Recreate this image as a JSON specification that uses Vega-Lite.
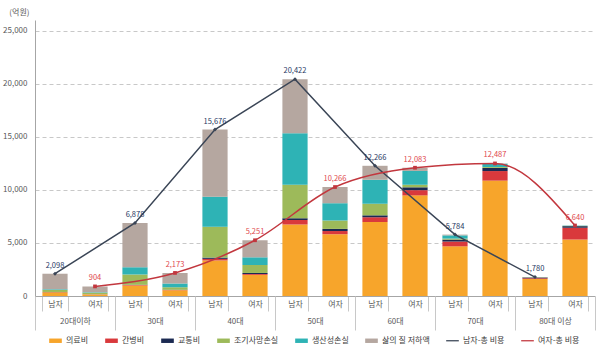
{
  "$schema": "https://vega.github.io/schema/vega-lite/v6.json",
  "width": 560,
  "height": 276,
  "autosize": {"type": "none"},
  "padding": {"left": 35, "top": 20, "right": 5, "bottom": 56},
  "background": "white",
  "config": {
    "font": "Noto Sans CJK KR",
    "view": {"stroke": null},
    "axis": {"labelFont": "Noto Sans CJK KR", "labelFontSize": 8, "labelColor": "#595959", "domainColor": "#a6a6a6", "tickColor": "#c8c8c8"}
  },
  "datasets": {
    "costs": [
      {"k": "20대이하|남자", "c": "의료비", "v": 350}, {"k": "20대이하|남자", "c": "간병비", "v": 20}, {"k": "20대이하|남자", "c": "교통비", "v": 10}, {"k": "20대이하|남자", "c": "조기사망손실", "v": 200}, {"k": "20대이하|남자", "c": "생산성손실", "v": 60}, {"k": "20대이하|남자", "c": "삶의 질 저하액", "v": 1458},
      {"k": "20대이하|여자", "c": "의료비", "v": 150}, {"k": "20대이하|여자", "c": "간병비", "v": 10}, {"k": "20대이하|여자", "c": "교통비", "v": 5}, {"k": "20대이하|여자", "c": "조기사망손실", "v": 150}, {"k": "20대이하|여자", "c": "생산성손실", "v": 30}, {"k": "20대이하|여자", "c": "삶의 질 저하액", "v": 559},
      {"k": "30대|남자", "c": "의료비", "v": 1000}, {"k": "30대|남자", "c": "간병비", "v": 40}, {"k": "30대|남자", "c": "교통비", "v": 30}, {"k": "30대|남자", "c": "조기사망손실", "v": 950}, {"k": "30대|남자", "c": "생산성손실", "v": 700}, {"k": "30대|남자", "c": "삶의 질 저하액", "v": 4158},
      {"k": "30대|여자", "c": "의료비", "v": 550}, {"k": "30대|여자", "c": "간병비", "v": 20}, {"k": "30대|여자", "c": "교통비", "v": 10}, {"k": "30대|여자", "c": "조기사망손실", "v": 240}, {"k": "30대|여자", "c": "생산성손실", "v": 350}, {"k": "30대|여자", "c": "삶의 질 저하액", "v": 1003},
      {"k": "40대|남자", "c": "의료비", "v": 3350}, {"k": "40대|남자", "c": "간병비", "v": 150}, {"k": "40대|남자", "c": "교통비", "v": 120}, {"k": "40대|남자", "c": "조기사망손실", "v": 2900}, {"k": "40대|남자", "c": "생산성손실", "v": 2835}, {"k": "40대|남자", "c": "삶의 질 저하액", "v": 6321},
      {"k": "40대|여자", "c": "의료비", "v": 1990}, {"k": "40대|여자", "c": "간병비", "v": 80}, {"k": "40대|여자", "c": "교통비", "v": 100}, {"k": "40대|여자", "c": "조기사망손실", "v": 750}, {"k": "40대|여자", "c": "생산성손실", "v": 725}, {"k": "40대|여자", "c": "삶의 질 저하액", "v": 1606},
      {"k": "50대|남자", "c": "의료비", "v": 6730}, {"k": "50대|남자", "c": "간병비", "v": 420}, {"k": "50대|남자", "c": "교통비", "v": 180}, {"k": "50대|남자", "c": "조기사망손실", "v": 3140}, {"k": "50대|남자", "c": "생산성손실", "v": 4860}, {"k": "50대|남자", "c": "삶의 질 저하액", "v": 5092},
      {"k": "50대|여자", "c": "의료비", "v": 5820}, {"k": "50대|여자", "c": "간병비", "v": 300}, {"k": "50대|여자", "c": "교통비", "v": 200}, {"k": "50대|여자", "c": "조기사망손실", "v": 790}, {"k": "50대|여자", "c": "생산성손실", "v": 1630}, {"k": "50대|여자", "c": "삶의 질 저하액", "v": 1526},
      {"k": "60대|남자", "c": "의료비", "v": 6970}, {"k": "60대|남자", "c": "간병비", "v": 450}, {"k": "60대|남자", "c": "교통비", "v": 180}, {"k": "60대|남자", "c": "조기사망손실", "v": 1090}, {"k": "60대|남자", "c": "생산성손실", "v": 2260}, {"k": "60대|남자", "c": "삶의 질 저하액", "v": 1316},
      {"k": "60대|여자", "c": "의료비", "v": 9480}, {"k": "60대|여자", "c": "간병비", "v": 490}, {"k": "60대|여자", "c": "교통비", "v": 270}, {"k": "60대|여자", "c": "조기사망손실", "v": 240}, {"k": "60대|여자", "c": "생산성손실", "v": 1300}, {"k": "60대|여자", "c": "삶의 질 저하액", "v": 303},
      {"k": "70대|남자", "c": "의료비", "v": 4680}, {"k": "70대|남자", "c": "간병비", "v": 450}, {"k": "70대|남자", "c": "교통비", "v": 180}, {"k": "70대|남자", "c": "조기사망손실", "v": 100}, {"k": "70대|남자", "c": "생산성손실", "v": 300}, {"k": "70대|남자", "c": "삶의 질 저하액", "v": 74},
      {"k": "70대|여자", "c": "의료비", "v": 10870}, {"k": "70대|여자", "c": "간병비", "v": 900}, {"k": "70대|여자", "c": "교통비", "v": 300}, {"k": "70대|여자", "c": "조기사망손실", "v": 80}, {"k": "70대|여자", "c": "생산성손실", "v": 300}, {"k": "70대|여자", "c": "삶의 질 저하액", "v": 37},
      {"k": "80대 이상|남자", "c": "의료비", "v": 1600}, {"k": "80대 이상|남자", "c": "간병비", "v": 80}, {"k": "80대 이상|남자", "c": "교통비", "v": 70}, {"k": "80대 이상|남자", "c": "조기사망손실", "v": 10}, {"k": "80대 이상|남자", "c": "생산성손실", "v": 15}, {"k": "80대 이상|남자", "c": "삶의 질 저하액", "v": 5},
      {"k": "80대 이상|여자", "c": "의료비", "v": 5320}, {"k": "80대 이상|여자", "c": "간병비", "v": 1110}, {"k": "80대 이상|여자", "c": "교통비", "v": 150}, {"k": "80대 이상|여자", "c": "조기사망손실", "v": 20}, {"k": "80대 이상|여자", "c": "생산성손실", "v": 30}, {"k": "80대 이상|여자", "c": "삶의 질 저하액", "v": 10}
    ],
    "totals": [
      {"k": "20대이하|남자", "g": "20대이하", "s": "남자", "t": 2098},
      {"k": "20대이하|여자", "g": "20대이하", "s": "여자", "t": 904},
      {"k": "30대|남자", "g": "30대", "s": "남자", "t": 6878},
      {"k": "30대|여자", "g": "30대", "s": "여자", "t": 2173},
      {"k": "40대|남자", "g": "40대", "s": "남자", "t": 15676},
      {"k": "40대|여자", "g": "40대", "s": "여자", "t": 5251},
      {"k": "50대|남자", "g": "50대", "s": "남자", "t": 20422},
      {"k": "50대|여자", "g": "50대", "s": "여자", "t": 10266},
      {"k": "60대|남자", "g": "60대", "s": "남자", "t": 12266},
      {"k": "60대|여자", "g": "60대", "s": "여자", "t": 12083},
      {"k": "70대|남자", "g": "70대", "s": "남자", "t": 5784},
      {"k": "70대|여자", "g": "70대", "s": "여자", "t": 12487},
      {"k": "80대 이상|남자", "g": "80대 이상", "s": "남자", "t": 1780},
      {"k": "80대 이상|여자", "g": "80대 이상", "s": "여자", "t": 6640}
    ]
  },
  "layer": [
    {
      "encoding": {
        "x": {
          "field": "k", "type": "nominal",
          "scale": {"domain": ["20대이하|남자", "20대이하|여자", "30대|남자", "30대|여자", "40대|남자", "40대|여자", "50대|남자", "50대|여자", "60대|남자", "60대|여자", "70대|남자", "70대|여자", "80대 이상|남자", "80대 이상|여자"], "paddingInner": 0.37, "paddingOuter": 0.185},
          "axis": {"title": null, "orient": "bottom", "labelAngle": 0, "labelExpr": "split(datum.value, '|')[1]", "tickBand": "extent", "tickSize": 15, "labelPadding": -11, "domain": true}
        }
      },
      "layer": [
        {
          "data": {"name": "costs"},
          "transform": [{"calculate": "indexof(['의료비','간병비','교통비','조기사망손실','생산성손실','삶의 질 저하액'], datum.c)", "as": "ord"}],
          "mark": {"type": "bar"},
          "encoding": {
            "y": {"field": "v", "type": "quantitative", "aggregate": "sum", "stack": "zero",
              "scale": {"domain": [0, 25000]},
              "axis": {"title": "(억원)", "titleAngle": 0, "titleAlign": "right", "titleBaseline": "bottom", "titleX": -6, "titleY": -4, "titleFontSize": 8, "titleFontWeight": "normal", "titleColor": "#595959", "values": [0, 5000, 10000, 15000, 20000, 25000], "format": ",.0f", "ticks": false, "labelPadding": 8, "grid": true, "gridDash": [4, 3], "gridColor": "#c8c8c8", "domain": true, "domainColor": "#a6a6a6"}},
            "color": {"field": "c", "type": "nominal",
              "scale": {"domain": ["의료비", "간병비", "교통비", "조기사망손실", "생산성손실", "삶의 질 저하액", "남자-총 비용", "여자-총 비용"], "range": ["#F7A52B", "#D9393C", "#1B2A52", "#9DBA5A", "#2EB3B5", "#B5A7A0", "#3A4556", "#C2373E"]},
              "legend": {"title": null, "orient": "none", "legendX": 14, "legendY": 314, "direction": "horizontal", "labelFontSize": 8, "labelColor": "#404040", "symbolSize": 160, "columnPadding": 16, "labelLimit": 200,
                "encode": {"symbols": {"update": {
                  "shape": {"signal": "indexof(['남자-총 비용','여자-총 비용'], datum.value) >= 0 ? 'M-1,-0.1H1V0.1H-1Z' : 'M-1,-0.35H1V0.35H-1Z'"},
                  "fill": {"scale": "color", "field": "value"},
                  "strokeWidth": {"value": 0},
                  "opacity": {"value": 1}
                }}}}
            },
            "order": {"field": "ord", "type": "quantitative", "sort": "ascending"}
          }
        },
        {
          "data": {"name": "totals"},
          "transform": [{"filter": "datum.s === '남자'"}],
          "mark": {"type": "line", "strokeWidth": 1.5, "point": {"filled": true, "size": 16, "shape": "diamond", "color": "#1F2D4A"}},
          "encoding": {
            "y": {"field": "t", "type": "quantitative"},
            "color": {"datum": "남자-총 비용"}
          }
        },
        {
          "data": {"name": "totals"},
          "transform": [{"filter": "datum.s === '여자'"}],
          "mark": {"type": "line", "strokeWidth": 1.5, "interpolate": "monotone", "point": {"filled": true, "size": 14, "shape": "square", "color": "#D13A42"}},
          "encoding": {
            "y": {"field": "t", "type": "quantitative"},
            "color": {"datum": "여자-총 비용"}
          }
        },
        {
          "data": {"name": "totals"},
          "mark": {"type": "text", "dy": -8, "fontSize": 7.5, "font": "Noto Sans CJK KR"},
          "encoding": {
            "y": {"field": "t", "type": "quantitative"},
            "text": {"field": "t", "type": "quantitative", "format": ","},
            "color": {"condition": {"test": "datum.s === '남자'", "value": "#1F3864"}, "value": "#E0474C"}
          }
        }
      ]
    },
    {
      "data": {"name": "totals"},
      "mark": {"type": "rule", "opacity": 0},
      "encoding": {
        "x": {"field": "g", "type": "nominal",
          "scale": {"domain": ["20대이하", "30대", "40대", "50대", "60대", "70대", "80대 이상"], "paddingInner": 0, "paddingOuter": 0},
          "axis": {"title": null, "orient": "bottom", "labelAngle": 0, "tickBand": "extent", "tickSize": 34, "labelPadding": -13, "domain": false}
        }
      }
    }
  ],
  "resolve": {"scale": {"x": "independent", "color": "shared"}, "axis": {"x": "independent"}}
}
